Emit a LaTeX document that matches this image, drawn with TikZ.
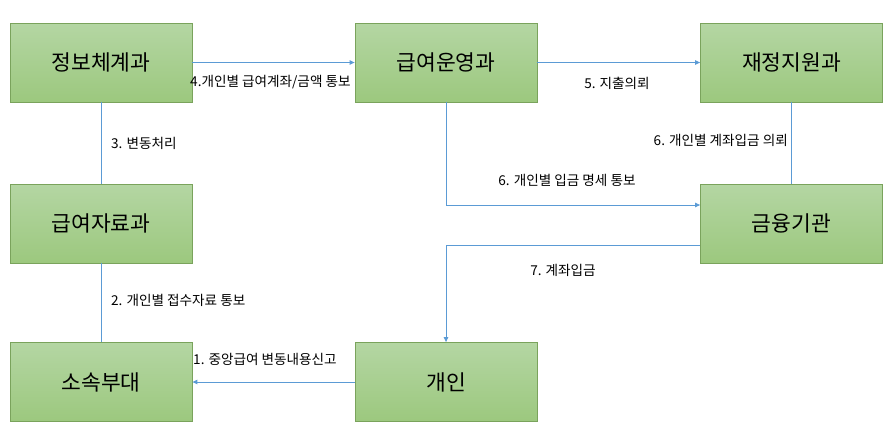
\documentclass[tikz,border=0pt]{standalone}
\usepackage{fontspec}
\setmainfont{Noto Sans CJK KR}
\usetikzlibrary{arrows.meta}
\definecolor{boxtop}{HTML}{B4D6A3}
\definecolor{boxbot}{HTML}{9CC87E}
\definecolor{boxline}{HTML}{7AA35C}
\definecolor{conn}{HTML}{5B9BD5}
\tikzset{
  box/.style={draw=boxline, line width=0.8pt, top color=boxtop, bottom color=boxbot,
    minimum width=182pt, minimum height=79pt, inner sep=0pt, font=\fontsize{21.5}{24}\selectfont},
  link/.style={draw=conn, line width=0.9pt},
  arr/.style={link, -{Triangle[length=5pt,width=4.5pt]}},
  lab/.style={font=\fontsize{13.6}{15}\selectfont, inner sep=0pt}
}
\begin{document}
\begin{tikzpicture}[x=1pt,y=-1pt]
\useasboundingbox (0,0) rectangle (891,429);
\node[box] (jb) at (101,62.5) {정보체계과};
\node[box] (gu) at (446,62.5) {급여운영과};
\node[box] (jj) at (791.5,62.5) {재정지원과};
\node[box] (gj) at (101,223.5) {급여자료과};
\node[box] (gy) at (791.5,223.5) {금융기관};
\node[box] (ss) at (101,382) {소속부대};
\node[box] (gi) at (446,382) {개인};

\draw[arr] (jb.east) -- (gu.west);
\draw[arr] (gu.east) -- (jj.west);
\draw[link] (jb.south) -- (gj.north);
\draw[link] (gj.south) -- (ss.north);
\draw[link] (jj.south) -- (gy.north);
\draw[arr] (gi.west) -- (ss.east);
\coordinate (c6) at (446,205);
\draw[arr] (gu.south) -- (c6) -- (gy.west |- c6);
\coordinate (s7) at (700,245);
\draw[arr] (s7) -- (gi.north |- s7) -- (gi.north);

\node[lab, anchor=west] (l4) at (190,82) {4.개인별 급여계좌/금액 통보};
\node[lab] (l5) at (617,83) {5. 지출의뢰};
\node[lab, anchor=west] (l3) at (111,143) {3. 변동처리};
\node[lab, anchor=west] (l2) at (111,300) {2. 개인별 접수자료 통보};
\node[lab] (l6a) at (567,180) {6. 개인별 입금 명세 통보};
\node[lab, anchor=east] (l6b) at (788,140) {6. 개인별 계좌입금 의뢰};
\node[lab] (l7) at (563,270) {7. 계좌입금};
\node[lab, anchor=west] (l1) at (193,359) {1. 중앙급여 변동내용신고};
\end{tikzpicture}
\end{document}
